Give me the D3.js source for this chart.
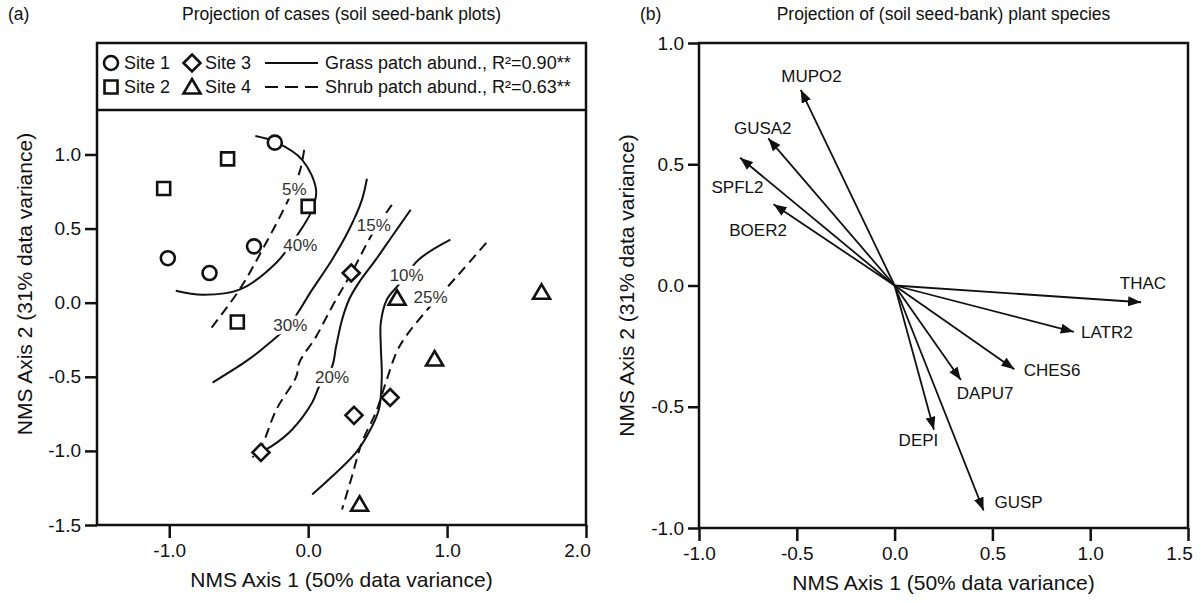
<!DOCTYPE html>
<html>
<head>
<meta charset="utf-8">
<script src="https://d3js.org/d3.v7.min.js"></script>
<style>
body { margin: 0; background: #fff; }
svg text { font-family: "Liberation Sans", Arial, sans-serif; fill: #111; }
</style>
</head>
<body>
<svg id="chart" width="1204" height="603"></svg>
<script>
// ---- panel (a): site scores on NMS axes ----
var site1 = [[-0.24, 1.08], [-0.39, 0.38], [-1.01, 0.30], [-0.71, 0.20]];
var site2 = [[-0.58, 0.97], [-1.04, 0.77], [0.00, 0.65], [-0.51, -0.13]];
var site3 = [[0.31, 0.20], [0.59, -0.64], [0.33, -0.76], [-0.34, -1.01]];
var site4 = [[0.64, 0.03], [1.68, 0.07], [0.91, -0.38], [0.37, -1.36]];

// fitted contour lines (grass = solid, shrub = dashed)
var grass40 = [[-0.38, 1.125], [-0.236, 1.085], [-0.043, 0.964], [0.057, 0.761], [0.029, 0.627], [-0.086, 0.445], [-0.229, 0.27], [-0.494, 0.088], [-0.759, 0.054], [-0.953, 0.081]];
var grass30 = [[0.423, 0.836], [0.387, 0.694], [0.294, 0.492], [0.172, 0.29], [0.029, 0.088], [-0.136, -0.148], [-0.337, -0.317], [-0.451, -0.398], [-0.688, -0.539]];
var grass20 = [[0.738, 0.627], [0.602, 0.445], [0.487, 0.29], [0.365, 0.135], [0.294, 0.02], [0.244, -0.115], [0.201, -0.296], [0.172, -0.431], [0.079, -0.566], [0.029, -0.674], [-0.115, -0.856], [-0.265, -0.97], [-0.351, -1.011]];
var grass10 = [[1.024, 0.425], [0.795, 0.29], [0.652, 0.121], [0.566, 0.02], [0.523, -0.135], [0.523, -0.296], [0.53, -0.499], [0.509, -0.721], [0.437, -0.876], [0.344, -1.011], [0.172, -1.173], [0.029, -1.294]];
var shrub5 = [[-0.029, 1.031], [-0.057, 0.896], [-0.136, 0.708], [-0.33, 0.357], [-0.494, 0.088], [-0.695, -0.168]];
var shrub15 = [[0.602, 0.66], [0.458, 0.458], [0.351, 0.27], [0.272, 0.135], [0.172, -0.027], [0.057, -0.229], [-0.064, -0.404], [-0.086, -0.499], [-0.229, -0.721], [-0.337, -0.97], [-0.401, -1.044]];
var shrub25 = [[1.282, 0.404], [1.082, 0.189], [0.845, -0.061], [0.702, -0.229], [0.638, -0.33], [0.559, -0.539], [0.487, -0.741], [0.387, -0.943], [0.315, -1.173], [0.244, -1.395]];

var contourNames = ['40%', '30%', '20%', '10%', '5%', '15%', '25%'];
var contourLabelPos = [[-0.057, 0.391], [-0.129, -0.148], [0.172, -0.499], [0.709, 0.189], [-0.1, 0.768], [0.473, 0.526], [0.881, 0.04]];

// ---- panel (b): species vectors ----
var species = ['MUPO2', 'GUSA2', 'SPFL2', 'BOER2', 'THAC', 'LATR2', 'CHES6', 'DAPU7', 'DEPI', 'GUSP'];
var speciesTip = [[-0.48, 0.807], [-0.646, 0.607], [-0.79, 0.527], [-0.619, 0.335], [1.26, -0.069], [0.916, -0.191], [0.612, -0.345], [0.339, -0.39], [0.201, -0.595], [0.455, -0.928]];
var speciesLabel = [[-0.425, 0.862], [-0.674, 0.649], [-0.803, 0.404], [-0.698, 0.228], [1.27, 0.011], [1.085, -0.191], [0.805, -0.348], [0.463, -0.445], [0.122, -0.638], [0.634, -0.895]];

var leftXTicks = [-1, 0, 1, 2];
var leftYTicks = [-1.5, -1, -0.5, 0, 0.5, 1];
var rightXTicks = [-1, -0.5, 0, 0.5, 1, 1.5];
var rightYTicks = [-1, -0.5, 0, 0.5, 1];

var svg = d3.select('#chart');
var fmt = function(d) { return d.toFixed(1); };
var frameW = 2.5;

// ---------------- panel (a) ----------------
var pa = {l: 97, r: 586, t: 43, legendB: 110, b: 525};
var xa = d3.scaleLinear().domain([-1.52, 2.0]).range([pa.l, pa.r]);
var ya = d3.scaleLinear().domain([-1.5, 1.3]).range([pa.b, pa.legendB]);

function styleAxis(g) {
    g.select('.domain').remove();
    g.selectAll('.tick line').attr('stroke', '#111').attr('stroke-width', frameW);
    g.selectAll('.tick text').attr('font-size', 19).attr('fill', '#111');
}
// last x label sits a little left of its corner tick, as in the original
function nudgeLast(g) {
    g.selectAll('.tick text').filter(function(d, i, n) { return i == n.length - 1; })
        .attr('dx', -9);
}

svg.append('g')
    .attr('transform', 'translate(0,' + pa.b + ')')
    .call(d3.axisBottom(xa).tickValues(leftXTicks).tickFormat(fmt).tickSize(13).tickPadding(6))
    .call(styleAxis)
    .call(nudgeLast);
svg.append('g')
    .attr('transform', 'translate(' + pa.l + ',0)')
    .call(d3.axisLeft(ya).tickValues(leftYTicks).tickFormat(fmt).tickSize(12).tickPadding(4))
    .call(styleAxis);

var line = d3.line()
    .x(function(d) { return xa(d[0]); })
    .y(function(d) { return ya(d[1]); })
    .curve(d3.curveCatmullRom.alpha(0.5));

var contourG = svg.append('g');
[grass40, grass30, grass20, grass10].forEach(function(c) {
    contourG.append('path').attr('d', line(c))
        .attr('fill', 'none').attr('stroke', '#111').attr('stroke-width', 2);
});
[shrub5, shrub15, shrub25].forEach(function(c) {
    contourG.append('path').attr('d', line(c))
        .attr('fill', 'none').attr('stroke', '#111').attr('stroke-width', 2)
        .attr('stroke-dasharray', '10,6');
});
contourG.selectAll('.clab')
    .data(contourNames)
    .enter().append('text')
    .attr('class', 'clab')
    .attr('x', function(d, i) { return xa(contourLabelPos[i][0]); })
    .attr('y', function(d, i) { return ya(contourLabelPos[i][1]); })
    .attr('dy', '0.35em')
    .attr('text-anchor', 'middle')
    .attr('font-size', 17)
    .style('fill', '#333')
    .attr('stroke', '#fff').attr('stroke-width', 7).attr('paint-order', 'stroke')
    .text(function(d) { return d; });

// marker shapes
var shapes = {
    circle: 'M7,0A7,7 0 1,1 -7,0A7,7 0 1,1 7,0Z',
    square: 'M-6.5,-6.5h13v13h-13Z',
    diamond: 'M0,-8.5L8.5,0L0,8.5L-8.5,0Z',
    triangle: 'M0,-8L8.5,6.5L-8.5,6.5Z'
};
var siteSets = [[site1, 'circle'], [site2, 'square'], [site3, 'diamond'], [site4, 'triangle']];
siteSets.forEach(function(s) {
    svg.append('g').selectAll('path')
        .data(s[0])
        .enter().append('path')
        .attr('d', shapes[s[1]])
        .attr('transform', function(d) { return 'translate(' + [xa(d[0]), ya(d[1])] + ')'; })
        .attr('fill', '#fff').attr('stroke', '#111').attr('stroke-width', 2.6);
});

// frame + legend box
svg.append('rect')
    .attr('x', pa.l).attr('y', pa.t)
    .attr('width', pa.r - pa.l).attr('height', pa.b - pa.t)
    .attr('fill', 'none').attr('stroke', '#111').attr('stroke-width', frameW);
svg.append('line')
    .attr('x1', pa.l).attr('x2', pa.r).attr('y1', pa.legendB).attr('y2', pa.legendB)
    .attr('stroke', '#111').attr('stroke-width', frameW);

var legRows = [63, 87];
var legItems = [
    {shape: 'circle', label: 'Site 1', x: 111, tx: 124, row: 0},
    {shape: 'square', label: 'Site 2', x: 111, tx: 124, row: 1},
    {shape: 'diamond', label: 'Site 3', x: 192, tx: 205, row: 0},
    {shape: 'triangle', label: 'Site 4', x: 192, tx: 205, row: 1}
];
var legG = svg.append('g');
legItems.forEach(function(it) {
    legG.append('path').attr('d', shapes[it.shape])
        .attr('transform', 'translate(' + [it.x, legRows[it.row]] + ')')
        .attr('fill', '#fff').attr('stroke', '#111').attr('stroke-width', 2.6);
    legG.append('text').attr('x', it.tx).attr('y', legRows[it.row])
        .attr('dy', '0.35em').attr('font-size', 18).text(it.label);
});
legG.append('line').attr('x1', 265).attr('x2', 318).attr('y1', legRows[0]).attr('y2', legRows[0])
    .attr('stroke', '#111').attr('stroke-width', 2);
legG.append('line').attr('x1', 265).attr('x2', 318).attr('y1', legRows[1]).attr('y2', legRows[1])
    .attr('stroke', '#111').attr('stroke-width', 2).attr('stroke-dasharray', '13,7');
legG.append('text').attr('x', 325).attr('y', legRows[0]).attr('dy', '0.35em')
    .attr('font-size', 18).text('Grass patch abund., R\u00B2=0.90**');
legG.append('text').attr('x', 325).attr('y', legRows[1]).attr('dy', '0.35em')
    .attr('font-size', 18).text('Shrub patch abund., R\u00B2=0.63**');

// titles
svg.append('text').attr('x', 8).attr('y', 20).attr('font-size', 17.5).text('(a)');
svg.append('text').attr('x', (pa.l + pa.r) / 2).attr('y', 20).attr('text-anchor', 'middle')
    .attr('font-size', 17.5).text('Projection of cases (soil seed-bank plots)');
svg.append('text').attr('x', (pa.l + pa.r) / 2).attr('y', 587).attr('text-anchor', 'middle')
    .attr('font-size', 21).text('NMS Axis 1 (50% data variance)');
svg.append('text').attr('transform', 'translate(32,' + (pa.t + pa.b) / 2 + ') rotate(-90)')
    .attr('text-anchor', 'middle').attr('font-size', 21).text('NMS Axis 2 (31% data variance)');

// ---------------- panel (b) ----------------
var pb = {l: 699, r: 1188, t: 43, b: 528};
var xb = d3.scaleLinear().domain([-1, 1.5]).range([pb.l, pb.r]);
var yb = d3.scaleLinear().domain([-1, 1]).range([pb.b, pb.t]);

svg.append('g')
    .attr('transform', 'translate(0,' + pb.b + ')')
    .call(d3.axisBottom(xb).tickValues(rightXTicks).tickFormat(fmt).tickSize(13).tickPadding(6))
    .call(styleAxis)
    .call(nudgeLast);
svg.append('g')
    .attr('transform', 'translate(' + pb.l + ',0)')
    .call(d3.axisLeft(yb).tickValues(rightYTicks).tickFormat(fmt).tickSize(11).tickPadding(4))
    .call(styleAxis);

svg.append('defs').append('marker')
    .attr('id', 'arrowhead')
    .attr('markerUnits', 'userSpaceOnUse')
    .attr('markerWidth', 14).attr('markerHeight', 10)
    .attr('refX', 13).attr('refY', 5)
    .attr('orient', 'auto')
    .append('path').attr('d', 'M0,0L13,5L0,10Z').attr('fill', '#111');

var vecG = svg.append('g');
vecG.selectAll('line')
    .data(speciesTip)
    .enter().append('line')
    .attr('x1', xb(0)).attr('y1', yb(0))
    .attr('x2', function(d) { return xb(d[0]); })
    .attr('y2', function(d) { return yb(d[1]); })
    .attr('stroke', '#111').attr('stroke-width', 1.8)
    .attr('marker-end', 'url(#arrowhead)');
vecG.selectAll('text')
    .data(species)
    .enter().append('text')
    .attr('x', function(d, i) { return xb(speciesLabel[i][0]); })
    .attr('y', function(d, i) { return yb(speciesLabel[i][1]); })
    .attr('dy', '0.35em').attr('text-anchor', 'middle')
    .attr('font-size', 17)
    .text(function(d) { return d; });

svg.append('rect')
    .attr('x', pb.l).attr('y', pb.t)
    .attr('width', pb.r - pb.l).attr('height', pb.b - pb.t)
    .attr('fill', 'none').attr('stroke', '#111').attr('stroke-width', frameW);

svg.append('text').attr('x', 640).attr('y', 20).attr('font-size', 17.5).text('(b)');
svg.append('text').attr('x', (pb.l + pb.r) / 2).attr('y', 20).attr('text-anchor', 'middle')
    .attr('font-size', 17.5).text('Projection of (soil seed-bank) plant species');
svg.append('text').attr('x', (pb.l + pb.r) / 2).attr('y', 590).attr('text-anchor', 'middle')
    .attr('font-size', 21).text('NMS Axis 1 (50% data variance)');
svg.append('text').attr('transform', 'translate(634,' + (pb.t + pb.b) / 2 + ') rotate(-90)')
    .attr('text-anchor', 'middle').attr('font-size', 21).text('NMS Axis 2 (31% data variance)');
</script>
</body>
</html>
